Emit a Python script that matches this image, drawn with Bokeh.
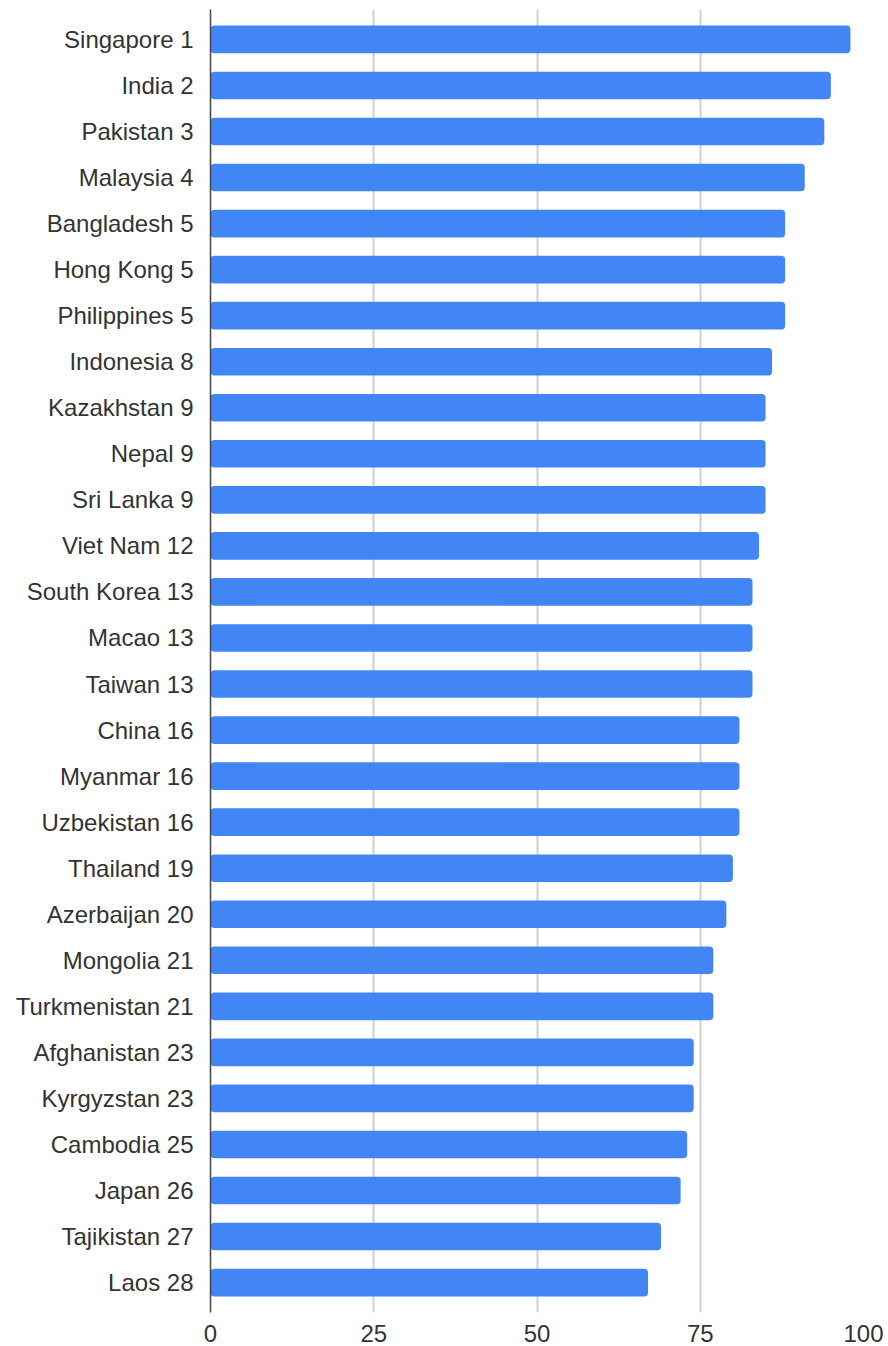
from bokeh.plotting import figure
from bokeh.models import FactorRange, Range1d, ColumnDataSource, FixedTicker
from bokeh.embed import file_html
from bokeh.resources import INLINE

countries = ["Singapore", "India", "Pakistan", "Malaysia", "Bangladesh", "Hong Kong",
             "Philippines", "Indonesia", "Kazakhstan", "Nepal", "Sri Lanka", "Viet Nam",
             "South Korea", "Macao", "Taiwan", "China", "Myanmar", "Uzbekistan",
             "Thailand", "Azerbaijan", "Mongolia", "Turkmenistan", "Afghanistan",
             "Kyrgyzstan", "Cambodia", "Japan", "Tajikistan", "Laos"]
ranks = [1, 2, 3, 4, 5, 5, 5, 8, 9, 9, 9, 12, 13, 13, 13, 16, 16, 16, 19, 20, 21, 21,
         23, 23, 25, 26, 27, 28]
scores = [98, 95, 94, 91, 88, 88, 88, 86, 85, 85, 85, 84, 83, 83, 83, 81, 81, 81,
          80, 79, 77, 77, 74, 74, 73, 72, 69, 67]
x_ticks = [0, 25, 50, 75, 100]

labels = [f"{c} {r}" for c, r in zip(countries, ranks)]
source = ColumnDataSource(data=dict(label=labels, score=scores))

y_range = FactorRange(factors=list(reversed(labels)), range_padding=0.15,
                      range_padding_units="absolute")

p = figure(width=888, height=1346, y_range=y_range, x_range=Range1d(0, 100),
           output_backend="svg", toolbar_location=None,
           min_border_left=210, min_border_right=25, min_border_top=9,
           min_border_bottom=34)
p.outline_line_color = None
p.background_fill_color = "white"

p.hbar(y="label", right="score", left=0, height=0.6, source=source,
       fill_color="#4285F4", line_color=None, border_radius=4)

FONT = "Liberation Sans"

p.xaxis.ticker = FixedTicker(ticks=x_ticks)
p.xaxis.axis_line_color = None
p.xaxis.major_tick_line_color = None
p.xaxis.minor_tick_line_color = None
p.xaxis.major_label_text_font = FONT
p.xaxis.major_label_text_font_size = "24px"
p.xaxis.major_label_text_color = "#333333"
p.xaxis.major_label_standoff = 6

p.yaxis.axis_line_color = "#444444"
p.yaxis.axis_line_width = 1.5
p.yaxis.major_tick_line_color = None
p.yaxis.minor_tick_line_color = None
p.yaxis.major_label_text_font = FONT
p.yaxis.major_label_text_font_size = "24px"
p.yaxis.major_label_text_color = "#333333"
p.yaxis.major_label_standoff = 11

p.xgrid.grid_line_color = "#d0d0d0"
p.xgrid.grid_line_width = 2
p.ygrid.grid_line_color = None

open("out.html", "w").write(file_html(p, INLINE))
